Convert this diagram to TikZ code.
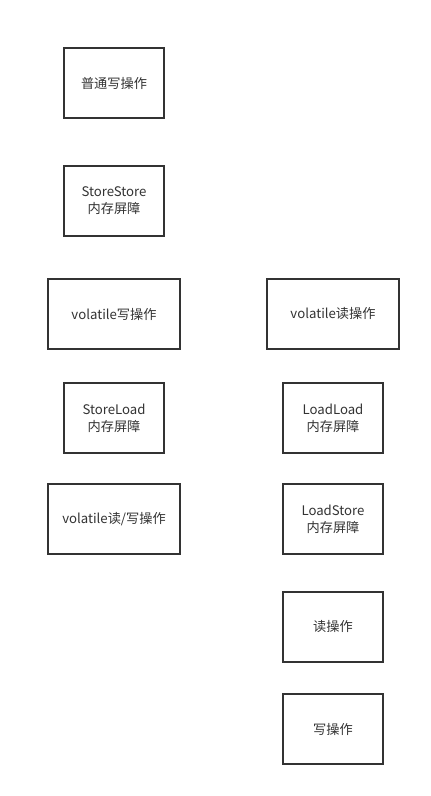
\documentclass[tikz,border=0pt]{standalone}
\usepackage{fontspec}
\setmainfont{Noto Sans CJK SC}
\begin{document}
\begin{tikzpicture}[x=1pt,y=-1pt,
  box/.style={draw=black!80,line width=1.8pt,fill=white,inner sep=0pt,
    font=\fontsize{13.2}{17}\selectfont,text=black!80,align=center,
    minimum height=70},
  narrow/.style={box,minimum width=100},
  wide/.style={box,minimum width=132}]
\useasboundingbox[fill=white] (0,0) rectangle (431,796);
\node[narrow] (pw) at (114,83) {普通写操作};
\node[narrow] (ss) at (114,201) {StoreStore\\内存屏障};
\node[wide] (vw) at (114,314) {volatile写操作};
\node[narrow] (sl) at (114,418) {StoreLoad\\内存屏障};
\node[wide] (vrw) at (114,519) {volatile读/写操作};
\node[wide] (vr) at (333,314) {volatile读操作};
\node[narrow] (ll) at (333,418) {LoadLoad\\内存屏障};
\node[narrow] (ls) at (333,519) {LoadStore\\内存屏障};
\node[narrow] (rd) at (333,627) {读操作};
\node[narrow] (wr) at (333,729) {写操作};
\end{tikzpicture}
\end{document}
